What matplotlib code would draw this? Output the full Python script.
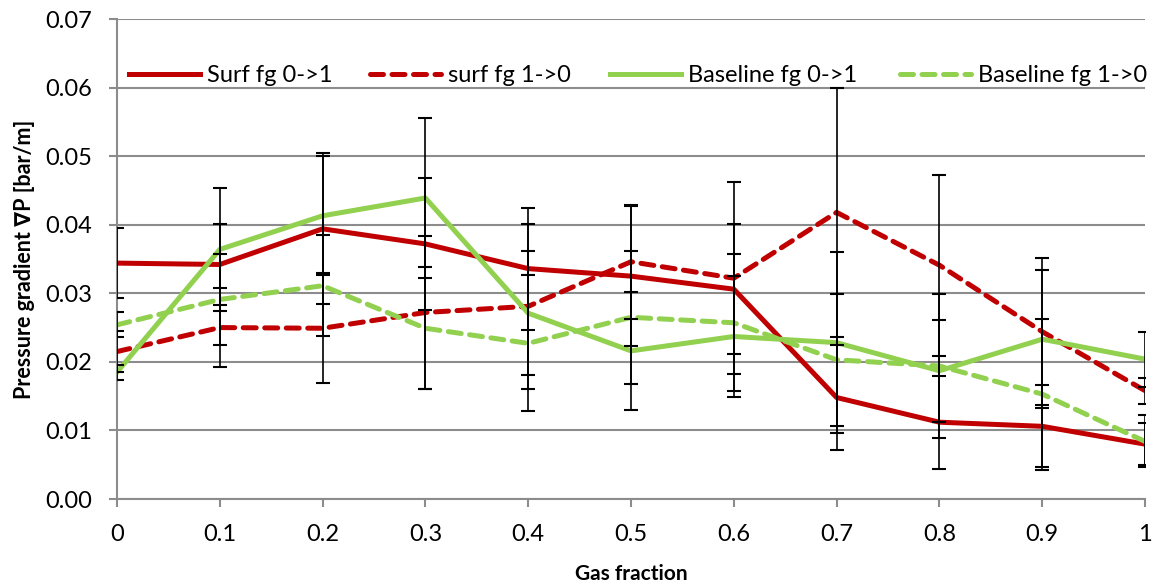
import matplotlib
matplotlib.use("Agg")
import matplotlib.pyplot as plt
import numpy as np

# gas fraction steps
gas_fraction = [0, 0.1, 0.2, 0.3, 0.4, 0.5, 0.6, 0.7, 0.8, 0.9, 1.0]

# pressure gradient [bar/m] for each run
surf_up = [0.0344, 0.0342, 0.0394, 0.0372, 0.0336, 0.0325, 0.0306, 0.0148, 0.0112, 0.0106, 0.0080]
surf_down = [0.0215, 0.0250, 0.0249, 0.0272, 0.0281, 0.0346, 0.0322, 0.0418, 0.0341, 0.0244, 0.0158]
base_up = [0.0185, 0.0364, 0.0413, 0.0439, 0.0271, 0.0216, 0.0237, 0.0228, 0.0187, 0.0233, 0.0204]
base_down = [0.0254, 0.0291, 0.0311, 0.0249, 0.0227, 0.0265, 0.0257, 0.0203, 0.0194, 0.0153, 0.0084]

# error bar half-widths
surf_up_err = [0.0051, 0.0059, 0.0110, 0.0096, 0.0089, 0.0102, 0.0095, 0.0077, 0.0068, 0.0060, 0.0031]
surf_down_err = [0.0030, 0.0057, 0.0080, 0.0112, 0.0120, 0.0083, 0.0140, 0.0182, 0.0132, 0.0107, 0.0019]
base_up_err = [0.0011, 0.0090, 0.0087, 0.0116, 0.0090, 0.0086, 0.0088, 0.0132, 0.0074, 0.0101, 0.0040]
base_down_err = [0.0018, 0.0067, 0.0074, 0.0089, 0.0099, 0.0097, 0.0100, 0.0096, 0.0105, 0.0110, 0.0038]

labels = ["Surf fg 0->1", "surf fg 1->0", "Baseline fg 0->1", "Baseline fg 1->0"]

RED = "#C00000"
GREEN = "#92D050"
GRID = "#8C8C8C"

plt.rcParams['font.family'] = ['Lato', 'DejaVu Sans']

W, H = 1153, 588
fig = plt.figure(figsize=(W / 100, H / 100), dpi=100)
ax = fig.add_axes([117 / W, 1 - 499 / H, 1028 / W, 480 / H])

series = [
    (surf_up, surf_up_err, RED, "-"),
    (surf_down, surf_down_err, RED, "--"),
    (base_up, base_up_err, GREEN, "-"),
    (base_down, base_down_err, GREEN, "--"),
]

handles = []
for (vals, err, col, ls), lab in zip(series, labels):
    line, = ax.plot(gas_fraction, vals, color=col, lw=3.6, ls=ls, label=lab, zorder=3,
                    dash_capstyle="round")
    if ls == "--":
        line.set_dashes((2.6, 1.7))
    handles.append(line)
    ax.errorbar(gas_fraction, vals, yerr=err, fmt="none", ecolor="black",
                elinewidth=1.2, capsize=5, capthick=1.5, zorder=4)

ax.set_xlim(0, 1)
ax.set_ylim(0, 0.07)
ax.set_xticks(gas_fraction)
ax.set_xticklabels(["0", "0.1", "0.2", "0.3", "0.4", "0.5", "0.6", "0.7", "0.8", "0.9", "1"])
ax.set_yticks(np.arange(0, 0.071, 0.01))
ax.set_yticklabels(["%.2f" % v for v in np.arange(0, 0.071, 0.01)])

ax.grid(axis="y", color=GRID, lw=1.5, zorder=0)
ax.set_axisbelow(True)
for s in ["top", "right"]:
    ax.spines[s].set_visible(False)
for s in ["left", "bottom"]:
    ax.spines[s].set_color(GRID)
    ax.spines[s].set_linewidth(1.5)
ax.tick_params(axis="both", colors=GRID, labelcolor="black", labelsize=17, length=6, width=1.5)
ax.tick_params(axis="x", pad=12)
ax.tick_params(axis="y", pad=12)

ax.set_xlabel("Gas fraction", fontsize=15, fontweight="bold", labelpad=14)
ax.set_ylabel("Pressure gradient \u2207P [bar/m]", fontsize=15.5, fontweight="bold", labelpad=7)

# one legend per entry so the columns sit where Excel put them
for h, lab, x0 in zip(handles, labels, [129, 370, 610, 900]):
    fig.legend([h], [lab], loc="center left", bbox_to_anchor=(x0 / W, 1 - 76 / H),
               frameon=False, fontsize=17, handlelength=3.0, handletextpad=0.3,
               borderpad=0, borderaxespad=0)

fig.savefig("out.png", dpi=100)
